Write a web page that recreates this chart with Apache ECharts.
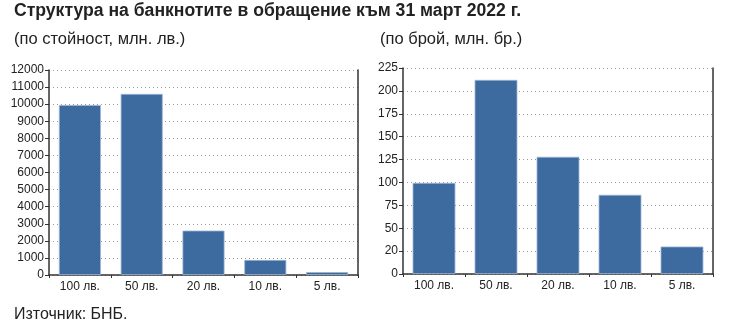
<!DOCTYPE html>
<html><head><meta charset="utf-8">
<script src="https://cdn.jsdelivr.net/npm/echarts@6/dist/echarts.min.js"></script>
<style>html,body{margin:0;padding:0;background:#fff}#c{width:731px;height:323px}</style>
</head><body><div id="c"></div>
<script>
var categories = ['100 лв.', '50 лв.', '20 лв.', '10 лв.', '5 лв.'];
var valueSeries = [9950, 10600, 2600, 880, 170];
var countSeries = [99.5, 212, 128, 86.5, 30];
var leftTickLabels = ['0','1000','2000','3000','4000','5000','6000','7000','8000','9000','10000','11000','12000'];
var rightTickLabels = ['0','20','50','75','100','125','150','175','200','225'];
var titleText = 'Структура на банкнотите в обращение към 31 март 2022 г.';
var leftSubtitle = '(по стойност, млн. лв.)';
var rightSubtitle = '(по брой, млн. бр.)';
var sourceText = 'Източник: БНБ.';

var FONT = 'Liberation Sans, Arial, sans-serif';
var barColor = '#3d6a9f';
var axisColor = '#333';
var chart = echarts.init(document.getElementById('c'), null, {renderer: 'canvas'});

function yAxisPair(gridIndex, max, interval, labels) {
  return [{
    type: 'value', gridIndex: gridIndex, min: 0, max: max, interval: interval,
    axisLine: {show: true, lineStyle: {color: axisColor, width: 1.5}},
    axisTick: {show: true, length: 4, lineStyle: {color: axisColor}},
    axisLabel: {color: '#222', fontSize: 12, fontFamily: FONT, margin: 5,
      formatter: function (v, idx) { var i = Math.round(Number(v) / interval); return labels[i] !== undefined ? labels[i] : String(v); }},
    splitLine: {show: true, lineStyle: {color: '#999', type: [1, 3], width: 1}}
  }, {
    type: 'value', gridIndex: gridIndex, position: 'right', min: 0, max: max, interval: interval,
    axisLine: {show: true, lineStyle: {color: axisColor, width: 1.5}},
    axisTick: {show: false}, axisLabel: {show: false}, splitLine: {show: false}
  }];
}
function xAxis(gridIndex) {
  return {
    type: 'category', gridIndex: gridIndex, data: categories,
    axisLine: {show: true, lineStyle: {color: axisColor, width: 1.5}},
    axisTick: {show: true, length: 3, inside: false, lineStyle: {color: axisColor}},
    axisLabel: {color: '#222', fontSize: 12, fontFamily: FONT, margin: 6}
  };
}

chart.setOption({
  animation: false,
  textStyle: {fontFamily: FONT},
  graphic: [
    {type: 'text', left: 14, top: 2, style: {text: titleText, font: 'bold 17.6px ' + FONT, fill: '#222'}},
    {type: 'text', left: 14, top: 31, style: {text: leftSubtitle, font: '16.5px ' + FONT, fill: '#222'}},
    {type: 'text', left: 380, top: 31, style: {text: rightSubtitle, font: '16.5px ' + FONT, fill: '#222'}},
    {type: 'text', left: 14, top: 307, style: {text: sourceText, font: '16px ' + FONT, fill: '#222'}}
  ],
  grid: [
    {left: 49, top: 70, width: 309, height: 205, containLabel: false},
    {left: 403, top: 68, width: 310, height: 206, containLabel: false}
  ],
  xAxis: [xAxis(0), xAxis(1)],
  yAxis: yAxisPair(0, 12000, 1000, leftTickLabels).concat(yAxisPair(1, 225, 25, rightTickLabels)),
  series: [
    {type: 'bar', xAxisIndex: 0, yAxisIndex: 0, data: valueSeries, barWidth: '68%',
     itemStyle: {color: barColor, borderColor: '#9db6d3', borderWidth: 0.8}},
    {type: 'bar', xAxisIndex: 1, yAxisIndex: 2, data: countSeries, barWidth: '69%',
     itemStyle: {color: barColor, borderColor: '#9db6d3', borderWidth: 0.8}}
  ]
});
</script></body></html>
